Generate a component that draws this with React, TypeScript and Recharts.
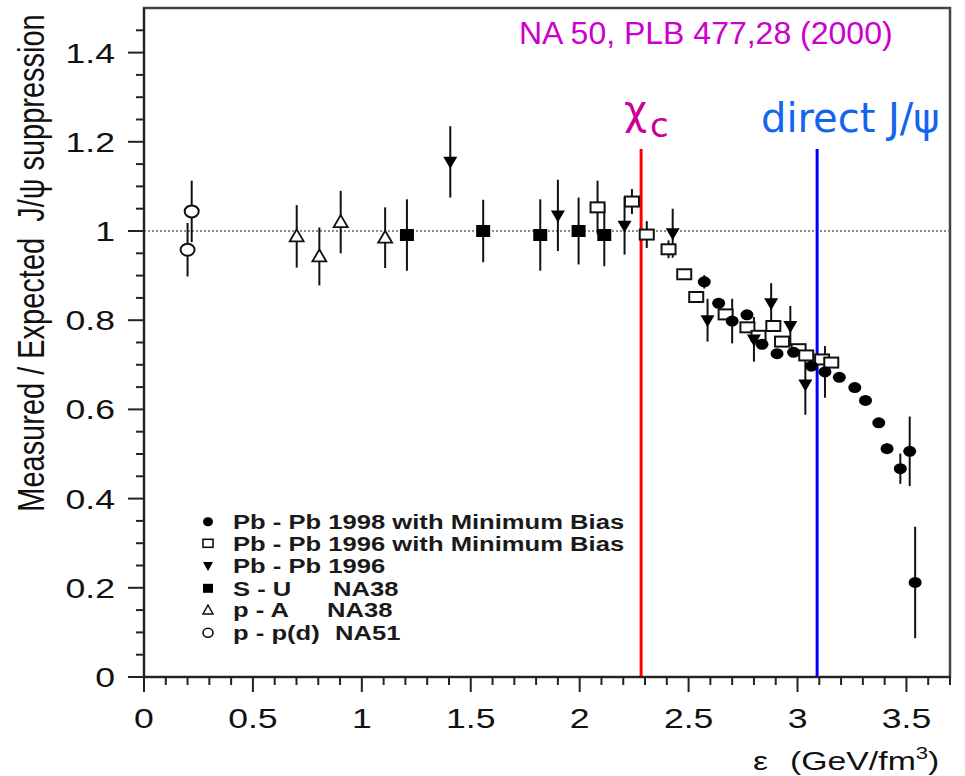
import React from "react";
import {
  ScatterChart,
  Scatter,
  XAxis,
  YAxis,
  ErrorBar,
  ReferenceLine,
  ReferenceArea,
} from "recharts";

// ---------- data ----------
// Pb - Pb 1998 with Minimum Bias (filled circles)
const pb98X = [2.572, 2.638, 2.7, 2.768, 2.837, 2.906, 2.982, 3.064, 3.126, 3.192, 3.263, 3.312, 3.373, 3.411, 3.472, 3.515, 3.54];
const pb98Y = [0.886, 0.838, 0.798, 0.812, 0.746, 0.725, 0.728, 0.697, 0.684, 0.672, 0.649, 0.62, 0.57, 0.512, 0.467, 0.506, 0.212];
const pb98Err = [0.015, 0, 0.05, 0, 0, 0, 0, 0, 0.058, 0, 0, 0, 0, 0.012, 0.034, 0.078, 0.125];

// Pb - Pb 1996 with Minimum Bias (open squares)
const pb96mbX = [2.082, 2.24, 2.308, 2.408, 2.48, 2.535, 2.67, 2.77, 2.821, 2.889, 2.929, 3.005, 3.04, 3.113, 3.155];
const pb96mbY = [1.053, 1.066, 0.992, 0.959, 0.903, 0.852, 0.813, 0.784, 0.765, 0.787, 0.752, 0.735, 0.721, 0.712, 0.705];
const pb96mbErr = [0.06, 0.028, 0.03, 0.02, 0, 0, 0, 0, 0, 0, 0, 0, 0, 0, 0];

// Pb - Pb 1996 (filled down triangles)
const pb96X = [1.406, 1.9, 2.206, 2.427, 2.587, 2.8, 2.879, 2.967, 3.036];
const pb96Y = [1.155, 1.035, 1.012, 0.995, 0.8, 0.757, 0.838, 0.787, 0.656];
const pb96Err = [0.08, 0.08, 0.065, 0.055, 0.048, 0.05, 0.045, 0.045, 0.068];

// S - U NA38 (filled squares)
const suX = [1.207, 1.557, 1.819, 1.995, 2.113];
const suY = [0.991, 1.0, 0.991, 1.0, 0.991];
const suErr = [0.08, 0.07, 0.08, 0.075, 0.07];

// p - A NA38 (open up triangles)
const paX = [0.701, 0.805, 0.903, 1.107];
const paY = [0.988, 0.943, 1.02, 0.985];
const paErr = [0.07, 0.065, 0.07, 0.068];

// p - p(d) NA51 (open circles)
const ppX = [0.2, 0.219];
const ppY = [0.958, 1.044];
const ppErr = [0.06, 0.069];

const xMajorTicks = [0, 0.5, 1, 1.5, 2, 2.5, 3, 3.5];
const xAllTicks = [0, 0.1, 0.2, 0.3, 0.4, 0.5, 0.6, 0.7, 0.8, 0.9, 1, 1.1, 1.2, 1.3, 1.4, 1.5, 1.6, 1.7, 1.8, 1.9, 2, 2.1, 2.2, 2.3, 2.4, 2.5, 2.6, 2.7, 2.8, 2.9, 3, 3.1, 3.2, 3.3, 3.4, 3.5, 3.6, 3.7];
const xTickLabels = ["0", "0.5", "1", "1.5", "2", "2.5", "3", "3.5"];
const yMajorTicks = [0, 0.2, 0.4, 0.6, 0.8, 1, 1.2, 1.4];
const yAllTicks = [0, 0.05, 0.1, 0.15, 0.2, 0.25, 0.3, 0.35, 0.4, 0.45, 0.5, 0.55, 0.6, 0.65, 0.7, 0.75, 0.8, 0.85, 0.9, 0.95, 1, 1.05, 1.1, 1.15, 1.2, 1.25, 1.3, 1.35, 1.4, 1.45];
const yTickLabels = ["0", "0.2", "0.4", "0.6", "0.8", "1", "1.2", "1.4"];

const chiLineX = 2.282;
const directLineX = 3.09;
const lineTopY = 1.184;

const legendLabels = [
  "Pb - Pb 1998 with Minimum Bias",
  "Pb - Pb 1996 with Minimum Bias",
  "Pb - Pb 1996",
  "S - U",
  "p - A",
  "p - p(d)",
];
const legendSecond = ["", "", "", "NA38", "NA38", "NA51"];

const build = (xs: number[], ys: number[], es: number[]) =>
  xs.map((x, i) => ({ x, y: ys[i], err: es[i] }));

const pb98Data = build(pb98X, pb98Y, pb98Err);
const pb96mbData = build(pb96mbX, pb96mbY, pb96mbErr);
const pb96Data = build(pb96X, pb96Y, pb96Err);
const suData = build(suX, suY, suErr);
const paData = build(paX, paY, paErr);
const ppData = build(ppX, ppY, ppErr);

// ---------- layout ----------
const W = 965;
const H = 776;
const FONT = "'Liberation Sans', Arial, Helvetica, sans-serif";
const SX = 1.27; // horizontal stretch of the scanned figure

// ---------- marker shapes ----------
const FilledCircle = (p: any) => (
  <ellipse cx={p.cx} cy={p.cy} rx={6.5} ry={5.5} fill="#000" />
);
const OpenSquare = (p: any) => (
  <rect x={p.cx - 7} y={p.cy - 5} width={14} height={10} fill="#fff" stroke="#111" strokeWidth={2} />
);
const TriDown = (p: any) => (
  <polygon
    points={`${p.cx - 7},${p.cy - 5} ${p.cx + 7},${p.cy - 5} ${p.cx},${p.cy + 7}`}
    fill="#000"
  />
);
const FilledSquare = (p: any) => (
  <rect x={p.cx - 7} y={p.cy - 6} width={14} height={12} fill="#000" />
);
const OpenTriUp = (p: any) => (
  <polygon
    points={`${p.cx},${p.cy - 7} ${p.cx + 7},${p.cy + 5} ${p.cx - 7},${p.cy + 5}`}
    fill="#fff"
    stroke="#111"
    strokeWidth={1.8}
  />
);
const OpenCircle = (p: any) => (
  <ellipse cx={p.cx} cy={p.cy} rx={7} ry={6} fill="#fff" stroke="#111" strokeWidth={2} />
);

// ---------- ticks ----------
const XTick = (props: any) => {
  const { x, y, payload } = props;
  const v = payload.value;
  const idx = xMajorTicks.findIndex((m) => Math.abs(m - v) < 1e-6);
  const major = idx >= 0;
  return (
    <g>
      <line x1={x} x2={x} y1={y} y2={y + (major ? 15 : 8)} stroke="#222" strokeWidth={2} />
      {major && (
        <text
          transform={`translate(${x},${y + 51}) scale(${SX},1)`}
          textAnchor="middle"
          fontFamily={FONT}
          fontSize={28}
          fill="#111"
        >
          {xTickLabels[idx]}
        </text>
      )}
    </g>
  );
};

const YTick = (props: any) => {
  const { x, y, payload } = props;
  const v = payload.value;
  const idx = yMajorTicks.findIndex((m) => Math.abs(m - v) < 1e-6);
  const major = idx >= 0;
  return (
    <g>
      <line x1={x} x2={x - (major ? 16 : 8)} y1={y} y2={y} stroke="#222" strokeWidth={2} />
      {major && (
        <text
          transform={`translate(${x - 29},${y}) scale(${SX},1)`}
          textAnchor="end"
          dy="0.36em"
          fontFamily={FONT}
          fontSize={28}
          fill="#111"
        >
          {yTickLabels[idx]}
        </text>
      )}
    </g>
  );
};

const legendShapes = [
  (cx: number, cy: number) => <ellipse cx={cx} cy={cy} rx={5} ry={4.5} fill="#000" />,
  (cx: number, cy: number) => <rect x={cx - 5} y={cy - 4} width={10} height={8} fill="#fff" stroke="#111" strokeWidth={1.6} />,
  (cx: number, cy: number) => <polygon points={`${cx - 5},${cy - 4} ${cx + 5},${cy - 4} ${cx},${cy + 5}`} fill="#000" />,
  (cx: number, cy: number) => <rect x={cx - 5} y={cy - 4.5} width={10} height={9} fill="#000" />,
  (cx: number, cy: number) => <polygon points={`${cx},${cy - 5} ${cx + 5},${cy + 4} ${cx - 5},${cy + 4}`} fill="#fff" stroke="#111" strokeWidth={1.5} />,
  (cx: number, cy: number) => <ellipse cx={cx} cy={cy} rx={5} ry={4.5} fill="#fff" stroke="#111" strokeWidth={1.6} />,
];
const legendRowY = [521.7, 543.3, 566, 588.3, 610, 632.7];
const legendSecondX = [0, 0, 0, 333, 327, 335];

export default function App() {
  const err = { dataKey: "err", direction: "y" as const, width: 0, stroke: "#111", strokeWidth: 2 };
  return (
    <div style={{ position: "relative", width: W, height: H, overflow: "hidden" }}>
      <style>{`body{margin:0;overflow:hidden;}`}</style>
      <ScatterChart width={W} height={H} margin={{ top: 8, right: 15, bottom: 39, left: 0 }}>
        <XAxis
          type="number"
          dataKey="x"
          domain={[0, 3.7]}
          ticks={xAllTicks}
          interval={0}
          tick={<XTick />}
          tickLine={false}
          tickSize={0}
          tickMargin={0}
          height={60}
          axisLine={{ stroke: "#222", strokeWidth: 2 }}
          allowDataOverflow
        />
        <YAxis
          type="number"
          dataKey="y"
          domain={[0, 1.5]}
          ticks={yAllTicks}
          interval={0}
          tick={<YTick />}
          tickLine={false}
          tickSize={0}
          tickMargin={0}
          width={144}
          axisLine={{ stroke: "#222", strokeWidth: 2 }}
          allowDataOverflow
        />
        <ReferenceArea x1={0} x2={3.7} y1={0} y2={1.5} fill="none" fillOpacity={0} stroke="#444" strokeWidth={2.5} />
        <ReferenceLine y={1} stroke="#666" strokeDasharray="2 2" strokeWidth={1.5} />
        <ReferenceLine segment={[{ x: chiLineX, y: 0 }, { x: chiLineX, y: lineTopY }]} stroke="#ff0000" strokeWidth={3} />
        <ReferenceLine segment={[{ x: directLineX, y: 0 }, { x: directLineX, y: lineTopY }]} stroke="#0000ff" strokeWidth={3} />
        <Scatter data={ppData} dataKey="y" shape={OpenCircle} isAnimationActive={false}>
          <ErrorBar {...err} />
        </Scatter>
        <Scatter data={paData} dataKey="y" shape={OpenTriUp} isAnimationActive={false}>
          <ErrorBar {...err} />
        </Scatter>
        <Scatter data={suData} dataKey="y" shape={FilledSquare} isAnimationActive={false}>
          <ErrorBar {...err} />
        </Scatter>
        <Scatter data={pb96mbData} dataKey="y" shape={OpenSquare} isAnimationActive={false}>
          <ErrorBar {...err} />
        </Scatter>
        <Scatter data={pb96Data} dataKey="y" shape={TriDown} isAnimationActive={false}>
          <ErrorBar {...err} />
        </Scatter>
        <Scatter data={pb98Data} dataKey="y" shape={FilledCircle} isAnimationActive={false}>
          <ErrorBar {...err} />
        </Scatter>
      </ScatterChart>
      <svg
        width={W}
        height={H}
        style={{ position: "absolute", left: 0, top: 0, pointerEvents: "none" }}
      >
        <text x={519} y={44} fontFamily={FONT} fontSize={32} fill="#cc00cc">
          NA 50, PLB 477,28 (2000)
        </text>
        <text x={624} y={124} fontFamily="'DejaVu Sans', sans-serif" fontSize={40} fill="#cc0099">
          χ
        </text>
        <text x={650} y={137} fontFamily="'DejaVu Sans', sans-serif" fontSize={34} fill="#cc0099">
          c
        </text>
        <text x={761} y={132} fontFamily="'DejaVu Sans', sans-serif" fontSize={40} fill="#1464f0">
          direct J/ψ
        </text>
        <text
          transform={`translate(31,263) scale(${SX},1) rotate(-90)`}
          textAnchor="middle"
          dy="0.36em"
          fontFamily={FONT}
          fontSize={29}
          fill="#111"
          xmlSpace="preserve"
          style={{ whiteSpace: "pre" }}
        >
          {"Measured / Expected  J/ψ suppression"}
        </text>
        <text transform={`translate(753,770) scale(1.3,1)`} fontFamily={FONT} fontSize={26} fill="#111">
          ε
        </text>
        <text transform={`translate(790,770) scale(1.3,1)`} fontFamily={FONT} fontSize={26} fill="#111">
          (GeV/fm
          <tspan dy={-11} fontSize={17}>3</tspan>
          <tspan dy={11}>)</tspan>
        </text>
        {legendLabels.map((lab, i) => (
          <g key={lab}>
            {legendShapes[i](208, legendRowY[i])}
            <text
              transform={`translate(233,${legendRowY[i]}) scale(1.28,1)`}
              dy="0.36em"
              fontFamily={FONT}
              fontSize={20}
              fontWeight="bold"
              fill="#1a1a1a"
            >
              {lab}
            </text>
            {legendSecond[i] && (
              <text
                transform={`translate(${legendSecondX[i]},${legendRowY[i]}) scale(1.28,1)`}
                dy="0.36em"
                fontFamily={FONT}
                fontSize={20}
                fontWeight="bold"
                fill="#1a1a1a"
              >
                {legendSecond[i]}
              </text>
            )}
          </g>
        ))}
      </svg>
    </div>
  );
}
